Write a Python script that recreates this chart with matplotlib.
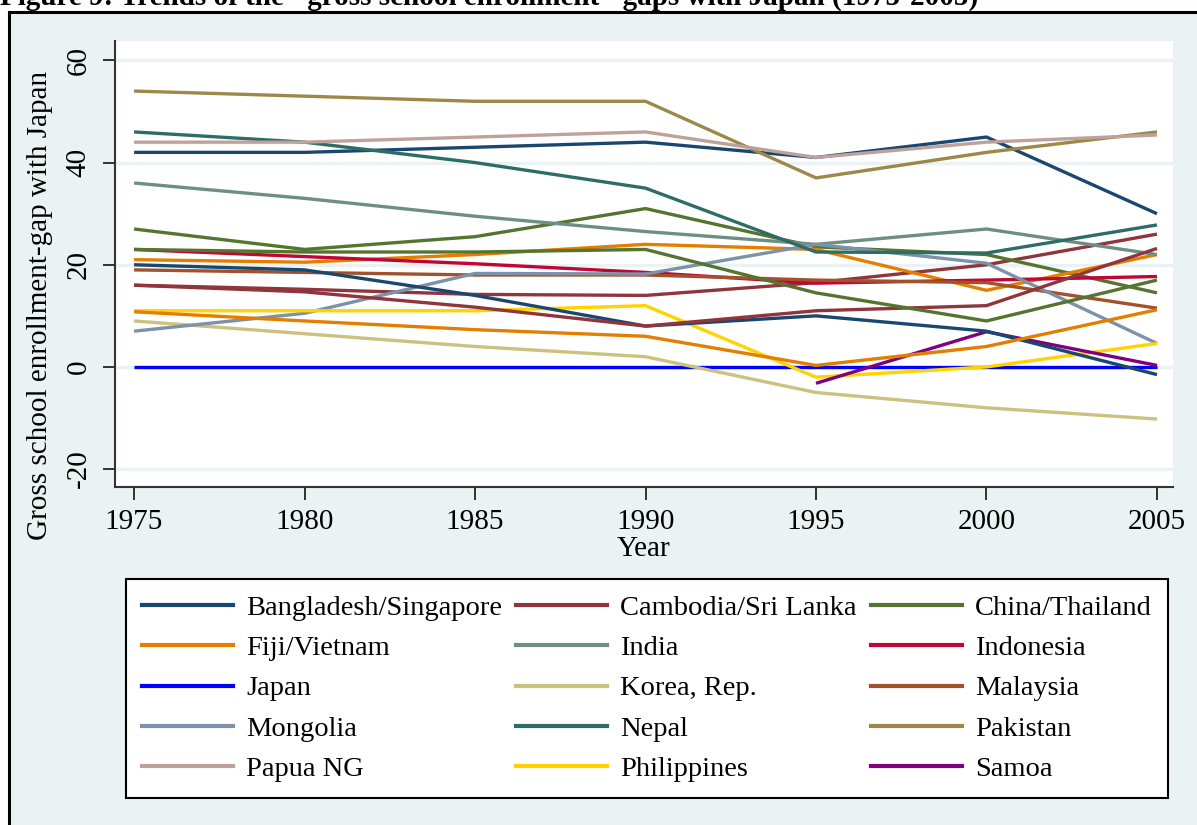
import numpy as np
import matplotlib.pyplot as plt
from matplotlib.lines import Line2D
from matplotlib.patches import Rectangle

plt.rcParams['font.family'] = ['Liberation Serif', 'DejaVu Serif']
plt.rcParams['axes.unicode_minus'] = False

# Gross school enrollment gap with Japan
years = [1975, 1980, 1985, 1990, 1995, 2000, 2005]

bangladesh = [42, 42, 43, 44, 41, 45, 30]
cambodia = [16, 15.2, 14.2, 14, 16.5, 20, 26]
china = [27, 23, 25.5, 31, 23.5, 22, 14.5]
fiji = [21, 20.5, 22, 24, 23, 15, 22]
india = [36, 33, 29.5, 26.5, 24, 27, 22]
indonesia = [23, 21.6, 20.2, 18.5, 16.4, 17, 17.7]
japan = [0, 0, 0, 0, 0, 0, 0]
korea = [9, 6.5, 4, 2, -5, -8, -10.2]
malaysia = [19, 18.5, 18, 18, 17, 16.5, 11.5]
mongolia = [7, 10.5, 18.3, 18.2, 24, 20.3, 4.6]
nepal = [46, 44, 40, 35, 22.5, 22.3, 27.8]
pakistan = [54, 53, 52, 52, 37, 42, 46]
papua = [44, 44, 45, 46, 41, 44, 45.4]
philippines = [11, 11, 11, 12, -2, 0, 4.6]
samoa = [np.nan, np.nan, np.nan, np.nan, -3.2, 6.9, 0.3]
singapore = [20, 19, 14, 8, 10, 7, -1.5]
sri_lanka = [16, 14.7, 11.7, 8, 11, 12, 23.2]
thailand = [23, 22.5, 22.5, 23, 14.5, 9, 17]
vietnam = [10.8, 9, 7.3, 6, 0.3, 4, 11.2]

legend_labels = ['Bangladesh/Singapore', 'Cambodia/Sri Lanka', 'China/Thailand',
                 'Fiji/Vietnam', 'India', 'Indonesia', 'Japan', 'Korea, Rep.',
                 'Malaysia', 'Mongolia', 'Nepal', 'Pakistan', 'Papua NG',
                 'Philippines', 'Samoa']
colors = ['#1a476f', '#90353b', '#55752f', '#e37e00', '#6e8e84', '#c10534',
          '#0000ff', '#cac27e', '#a0522d', '#7b92a8', '#2d6d66', '#9c8847',
          '#bfa19c', '#ffd200', '#800080']

# countries in drawing order, colours cycle after 15
countries = [bangladesh, cambodia, china, fiji, india, indonesia, japan, korea,
             malaysia, mongolia, nepal, pakistan, papua, philippines, samoa,
             singapore, sri_lanka, thailand, vietnam]

W, H = 1197, 825
bg = '#eaf2f3'
fig = plt.figure(figsize=(W / 100, H / 100), dpi=100, facecolor='white')

# grey graph region with black frame
fig.add_artist(Rectangle((9 / W, -0.1), 1.2, 1 - 12 / H + 0.1, transform=fig.transFigure,
                         facecolor=bg, edgecolor='black', linewidth=2.2, zorder=0))

fig.text(0.0, 1 - 5 / H,
         'Figure 9: Trends of the "gross school enrollment" gaps with Japan (1975-2005)',
         fontsize=21, fontweight='bold', va='baseline', ha='left')

ax = fig.add_axes([115 / W, 1 - 487 / H, (1173 - 115) / W, (487 - 41) / H])
ax.set_facecolor('white')

for i, vals in enumerate(countries):
    ax.plot(years, vals, color=colors[i % 15], lw=2.4, solid_capstyle='butt')

ax.set_xlim(1974.44, 2005.47)
ax.set_ylim(-23.5, 63.8)
ax.set_xticks(range(1975, 2006, 5))
ax.set_yticks([-20, 0, 20, 40, 60])
ax.grid(axis='y', color=bg, lw=2.5)
ax.set_axisbelow(True)
for s in ['top', 'right']:
    ax.spines[s].set_visible(False)
for s in ['left', 'bottom']:
    ax.spines[s].set_color('#333333')
    ax.spines[s].set_linewidth(1.5)
ax.tick_params(direction='out', length=9, width=1.3, labelsize=21, color='#222222')
ax.tick_params(axis='x', pad=7)
ax.tick_params(axis='y', pad=8)
for lab in ax.get_yticklabels():
    lab.set_rotation(90)
    lab.set_va('center')

fig.text(644 / W, 1 - 549 / H, 'Year', fontsize=21, ha='center', va='center')
fig.text(40 / W, 1 - 305 / H, 'Gross school enrollment-gap with Japan', fontsize=21,
         rotation=90, ha='center', va='center')

# legend, filled row by row like the original
handles = [Line2D([], [], color=c, lw=3) for c in colors]
order = [r * 3 + c for c in range(3) for r in range(5)]
leg = ax.legend([handles[i] for i in order], [legend_labels[i] for i in order],
                ncol=3, loc='upper left', mode='expand',
                bbox_to_anchor=(126 / W, 1 - 788 / H, (1168 - 126) / W, (788 - 579) / H),
                bbox_transform=fig.transFigure, fontsize=20.5, frameon=True,
                fancybox=False, framealpha=1, edgecolor='black',
                handlelength=3.2, handletextpad=0.45, labelspacing=0.5,
                borderpad=0.57, borderaxespad=0, columnspacing=0.6)
leg.get_frame().set_linewidth(1.5)

plt.savefig('out.png', dpi=100, facecolor='white')
